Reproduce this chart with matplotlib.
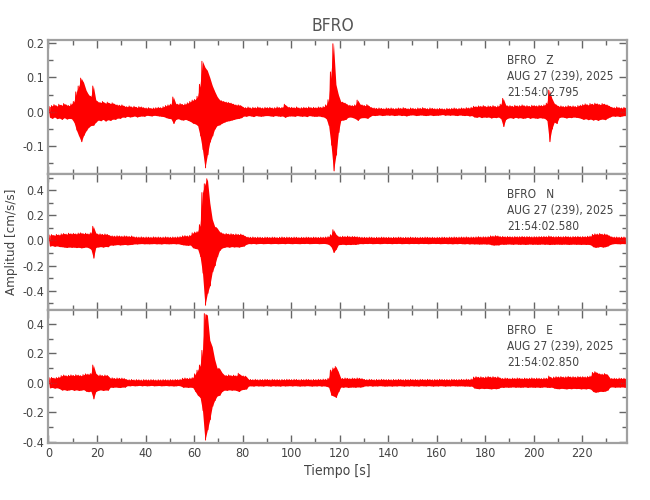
import numpy as np
import matplotlib.pyplot as plt
from matplotlib.ticker import MultipleLocator, FormatStrFormatter

plt.rcParams['axes.unicode_minus'] = False
plt.rcParams['font.family'] = ['DejaVu Sans']
plt.rcParams['font.stretch'] = 'condensed'

station = 'BFRO'
components = ['Z', 'N', 'E']
date_label = 'AUG 27 (239), 2025'
start_times = ['21:54:02.795', '21:54:02.580', '21:54:02.850']
x_ticks = list(range(0, 221, 20))

# max / min of the trace in each 1 s window (t = 0..238 s)
z_hi = [0.015, 0.018, 0.021, 0.017, 0.022, 0.019, 0.024, 0.020, 0.018, 0.023,
        0.030, 0.058, 0.075, 0.098, 0.085, 0.063, 0.050, 0.045, 0.075, 0.035,
        0.029, 0.027, 0.030, 0.025, 0.028, 0.024, 0.026, 0.022, 0.020, 0.019,
        0.020, 0.016, 0.015, 0.017, 0.014, 0.016, 0.013, 0.015, 0.014, 0.012,
        0.011, 0.012, 0.010, 0.011, 0.012, 0.013, 0.012, 0.015, 0.018, 0.020,
        0.022, 0.043, 0.024, 0.022, 0.024, 0.021, 0.023, 0.026, 0.030, 0.034,
        0.036, 0.045, 0.080, 0.147, 0.130, 0.120, 0.100, 0.077, 0.060, 0.045,
        0.035, 0.032, 0.030, 0.028, 0.027, 0.025, 0.022, 0.020, 0.020, 0.018,
        0.013, 0.012, 0.014, 0.011, 0.013, 0.012, 0.014, 0.012, 0.011, 0.013,
        0.012, 0.013, 0.011, 0.012, 0.014, 0.012, 0.013, 0.022, 0.015, 0.013,
        0.013, 0.012, 0.014, 0.011, 0.012, 0.013, 0.012, 0.014, 0.012, 0.013,
        0.012, 0.014, 0.013, 0.015, 0.020, 0.035, 0.116, 0.198, 0.080, 0.050,
        0.030, 0.028, 0.025, 0.020, 0.019, 0.018, 0.020, 0.034, 0.022, 0.020,
        0.018, 0.021, 0.015, 0.012, 0.011, 0.010, 0.011, 0.010, 0.009, 0.011,
        0.010, 0.011, 0.009, 0.010, 0.011, 0.010, 0.012, 0.010, 0.009, 0.011,
        0.010, 0.009, 0.011, 0.010, 0.012, 0.010, 0.009, 0.011, 0.010, 0.009,
        0.009, 0.010, 0.009, 0.008, 0.010, 0.009, 0.010, 0.011, 0.009, 0.010,
        0.011, 0.010, 0.012, 0.011, 0.013, 0.016, 0.015, 0.017, 0.016, 0.018,
        0.015, 0.017, 0.016, 0.018, 0.015, 0.017, 0.022, 0.039, 0.020, 0.017,
        0.018, 0.016, 0.019, 0.017, 0.018, 0.020, 0.017, 0.018, 0.016, 0.019,
        0.018, 0.017, 0.019, 0.018, 0.020, 0.025, 0.063, 0.040, 0.025, 0.020,
        0.016, 0.017, 0.015, 0.016, 0.018, 0.016, 0.017, 0.015, 0.018, 0.019,
        0.021, 0.023, 0.020, 0.024, 0.022, 0.025, 0.023, 0.021, 0.024, 0.022,
        0.020, 0.016, 0.013, 0.012, 0.014, 0.012, 0.011, 0.013, 0.012]
z_lo = [-0.016, -0.019, -0.015, -0.020, -0.018, -0.022, -0.017, -0.021, -0.019, -0.020,
        -0.030, -0.053, -0.070, -0.087, -0.068, -0.055, -0.045, -0.040, -0.039, -0.030,
        -0.024, -0.026, -0.022, -0.027, -0.023, -0.025, -0.021, -0.022, -0.018, -0.019,
        -0.015, -0.016, -0.013, -0.015, -0.014, -0.012, -0.015, -0.013, -0.012, -0.013,
        -0.010, -0.011, -0.012, -0.010, -0.011, -0.012, -0.013, -0.014, -0.017, -0.019,
        -0.020, -0.034, -0.022, -0.020, -0.023, -0.024, -0.022, -0.025, -0.028, -0.033,
        -0.035, -0.040, -0.070, -0.110, -0.163, -0.125, -0.088, -0.070, -0.050, -0.040,
        -0.038, -0.033, -0.030, -0.027, -0.026, -0.024, -0.022, -0.020, -0.019, -0.017,
        -0.012, -0.013, -0.011, -0.012, -0.014, -0.011, -0.012, -0.013, -0.012, -0.011,
        -0.011, -0.012, -0.013, -0.011, -0.012, -0.013, -0.012, -0.016, -0.013, -0.012,
        -0.012, -0.013, -0.011, -0.012, -0.013, -0.012, -0.014, -0.011, -0.012, -0.013,
        -0.013, -0.012, -0.014, -0.015, -0.020, -0.040, -0.097, -0.172, -0.126, -0.060,
        -0.025, -0.024, -0.022, -0.016, -0.015, -0.017, -0.020, -0.025, -0.018, -0.017,
        -0.017, -0.019, -0.014, -0.010, -0.011, -0.010, -0.009, -0.011, -0.010, -0.009,
        -0.010, -0.009, -0.011, -0.010, -0.009, -0.011, -0.010, -0.012, -0.010, -0.009,
        -0.009, -0.011, -0.010, -0.009, -0.010, -0.011, -0.010, -0.009, -0.011, -0.010,
        -0.010, -0.009, -0.008, -0.010, -0.009, -0.010, -0.009, -0.010, -0.011, -0.009,
        -0.010, -0.011, -0.010, -0.012, -0.011, -0.015, -0.016, -0.014, -0.017, -0.015,
        -0.016, -0.015, -0.018, -0.016, -0.017, -0.015, -0.020, -0.043, -0.022, -0.018,
        -0.017, -0.019, -0.016, -0.018, -0.017, -0.019, -0.018, -0.016, -0.019, -0.017,
        -0.018, -0.019, -0.017, -0.018, -0.019, -0.025, -0.087, -0.050, -0.030, -0.034,
        -0.017, -0.015, -0.016, -0.018, -0.016, -0.017, -0.015, -0.016, -0.017, -0.019,
        -0.022, -0.020, -0.023, -0.021, -0.024, -0.022, -0.025, -0.022, -0.021, -0.023,
        -0.018, -0.015, -0.012, -0.013, -0.012, -0.014, -0.012, -0.011, -0.012]

n_hi = [0.042, 0.046, 0.040, 0.048, 0.044, 0.052, 0.055, 0.050, 0.057, 0.053,
        0.056, 0.052, 0.058, 0.060, 0.054, 0.057, 0.052, 0.060, 0.112, 0.060,
        0.050, 0.052, 0.048, 0.051, 0.047, 0.038, 0.036, 0.034, 0.037, 0.035,
        0.033, 0.036, 0.034, 0.032, 0.035, 0.028, 0.027, 0.026, 0.028, 0.025,
        0.027, 0.026, 0.025, 0.028, 0.026, 0.027, 0.025, 0.026, 0.028, 0.026,
        0.025, 0.027, 0.026, 0.028, 0.030, 0.036, 0.038, 0.035, 0.040, 0.060,
        0.066, 0.070, 0.125, 0.380, 0.450, 0.490, 0.300, 0.170, 0.112, 0.100,
        0.070, 0.060, 0.052, 0.055, 0.050, 0.053, 0.048, 0.051, 0.047, 0.050,
        0.042, 0.030, 0.026, 0.025, 0.027, 0.024, 0.026, 0.025, 0.023, 0.026,
        0.025, 0.024, 0.026, 0.025, 0.023, 0.025, 0.027, 0.024, 0.026, 0.025,
        0.024, 0.026, 0.025, 0.023, 0.025, 0.024, 0.026, 0.025, 0.024, 0.026,
        0.025, 0.024, 0.026, 0.025, 0.027, 0.030, 0.045, 0.085, 0.050, 0.032,
        0.030, 0.033, 0.031, 0.034, 0.030, 0.032, 0.031, 0.029, 0.026, 0.025,
        0.025, 0.024, 0.026, 0.025, 0.023, 0.025, 0.024, 0.026, 0.025, 0.024,
        0.025, 0.023, 0.025, 0.024, 0.026, 0.025, 0.023, 0.025, 0.024, 0.026,
        0.024, 0.025, 0.023, 0.025, 0.024, 0.026, 0.025, 0.024, 0.025, 0.023,
        0.025, 0.024, 0.026, 0.025, 0.024, 0.026, 0.025, 0.027, 0.025, 0.026,
        0.027, 0.026, 0.028, 0.025, 0.027, 0.026, 0.028, 0.030, 0.027, 0.029,
        0.028, 0.030, 0.036, 0.034, 0.038, 0.035, 0.030, 0.032, 0.029, 0.031,
        0.030, 0.028, 0.031, 0.029, 0.030, 0.032, 0.029, 0.031, 0.030, 0.028,
        0.030, 0.029, 0.031, 0.030, 0.032, 0.030, 0.035, 0.031, 0.029, 0.030,
        0.031, 0.029, 0.030, 0.032, 0.030, 0.028, 0.031, 0.030, 0.032, 0.029,
        0.031, 0.030, 0.033, 0.034, 0.048, 0.052, 0.050, 0.055, 0.049, 0.051,
        0.046, 0.035, 0.028, 0.026, 0.027, 0.025, 0.026, 0.027, 0.025]
n_lo = [-0.045, -0.041, -0.047, -0.043, -0.049, -0.050, -0.053, -0.056, -0.052, -0.055,
        -0.053, -0.057, -0.054, -0.059, -0.056, -0.052, -0.058, -0.070, -0.141, -0.055,
        -0.052, -0.049, -0.053, -0.048, -0.050, -0.036, -0.038, -0.035, -0.033, -0.036,
        -0.034, -0.032, -0.035, -0.033, -0.031, -0.027, -0.028, -0.026, -0.025, -0.027,
        -0.026, -0.027, -0.026, -0.025, -0.027, -0.026, -0.028, -0.025, -0.026, -0.027,
        -0.026, -0.025, -0.027, -0.026, -0.031, -0.035, -0.037, -0.039, -0.036, -0.058,
        -0.064, -0.068, -0.128, -0.260, -0.515, -0.420, -0.360, -0.250, -0.200, -0.130,
        -0.080, -0.060, -0.055, -0.050, -0.054, -0.049, -0.052, -0.050, -0.053, -0.048,
        -0.045, -0.031, -0.025, -0.026, -0.024, -0.027, -0.025, -0.024, -0.026, -0.025,
        -0.024, -0.026, -0.025, -0.024, -0.026, -0.025, -0.024, -0.026, -0.023, -0.025,
        -0.026, -0.024, -0.025, -0.026, -0.024, -0.025, -0.023, -0.026, -0.025, -0.024,
        -0.024, -0.026, -0.025, -0.024, -0.026, -0.032, -0.050, -0.096, -0.070, -0.034,
        -0.032, -0.030, -0.034, -0.031, -0.033, -0.030, -0.032, -0.028, -0.025, -0.026,
        -0.024, -0.025, -0.023, -0.026, -0.025, -0.024, -0.026, -0.025, -0.023, -0.025,
        -0.024, -0.026, -0.024, -0.025, -0.023, -0.026, -0.025, -0.024, -0.026, -0.024,
        -0.025, -0.024, -0.026, -0.023, -0.025, -0.024, -0.026, -0.025, -0.023, -0.025,
        -0.024, -0.026, -0.025, -0.024, -0.026, -0.025, -0.027, -0.025, -0.026, -0.024,
        -0.026, -0.027, -0.025, -0.028, -0.026, -0.028, -0.027, -0.029, -0.028, -0.027,
        -0.029, -0.028, -0.034, -0.037, -0.035, -0.036, -0.029, -0.031, -0.030, -0.028,
        -0.029, -0.031, -0.028, -0.030, -0.031, -0.029, -0.032, -0.030, -0.028, -0.031,
        -0.029, -0.031, -0.030, -0.028, -0.031, -0.029, -0.033, -0.030, -0.031, -0.029,
        -0.030, -0.031, -0.029, -0.030, -0.032, -0.030, -0.029, -0.031, -0.030, -0.032,
        -0.030, -0.032, -0.031, -0.035, -0.050, -0.055, -0.052, -0.048, -0.053, -0.050,
        -0.044, -0.033, -0.027, -0.025, -0.026, -0.027, -0.025, -0.026, -0.024]

e_hi = [0.033, 0.036, 0.031, 0.035, 0.038, 0.048, 0.052, 0.047, 0.050, 0.053,
        0.049, 0.054, 0.051, 0.048, 0.055, 0.060, 0.058, 0.062, 0.120, 0.065,
        0.050, 0.053, 0.048, 0.052, 0.049, 0.031, 0.033, 0.029, 0.032, 0.030,
        0.031, 0.028, 0.021, 0.020, 0.022, 0.019, 0.021, 0.020, 0.018, 0.021,
        0.020, 0.019, 0.021, 0.020, 0.018, 0.020, 0.019, 0.021, 0.020, 0.019,
        0.021, 0.020, 0.022, 0.021, 0.023, 0.030, 0.032, 0.029, 0.031, 0.034,
        0.060, 0.085, 0.120, 0.220, 0.470, 0.460, 0.290, 0.245, 0.160, 0.100,
        0.098, 0.070, 0.052, 0.049, 0.053, 0.048, 0.051, 0.047, 0.064, 0.050,
        0.046, 0.044, 0.023, 0.022, 0.021, 0.023, 0.020, 0.022, 0.021, 0.023,
        0.022, 0.020, 0.023, 0.021, 0.022, 0.020, 0.022, 0.021, 0.023, 0.022,
        0.021, 0.023, 0.022, 0.020, 0.022, 0.021, 0.023, 0.022, 0.020, 0.022,
        0.021, 0.023, 0.022, 0.024, 0.023, 0.030, 0.086, 0.100, 0.110, 0.075,
        0.031, 0.029, 0.032, 0.030, 0.028, 0.031, 0.029, 0.032, 0.030, 0.028,
        0.022, 0.021, 0.023, 0.022, 0.020, 0.022, 0.021, 0.023, 0.022, 0.021,
        0.022, 0.020, 0.022, 0.021, 0.023, 0.022, 0.020, 0.022, 0.021, 0.023,
        0.021, 0.022, 0.020, 0.023, 0.022, 0.021, 0.023, 0.022, 0.020, 0.022,
        0.021, 0.023, 0.022, 0.021, 0.022, 0.020, 0.023, 0.022, 0.021, 0.022,
        0.023, 0.022, 0.024, 0.022, 0.025, 0.038, 0.041, 0.037, 0.040, 0.036,
        0.039, 0.042, 0.038, 0.041, 0.037, 0.040, 0.031, 0.029, 0.032, 0.030,
        0.028, 0.031, 0.029, 0.032, 0.030, 0.028, 0.031, 0.029, 0.030, 0.032,
        0.029, 0.031, 0.030, 0.028, 0.031, 0.030, 0.045, 0.033, 0.038, 0.041,
        0.039, 0.042, 0.038, 0.040, 0.043, 0.039, 0.041, 0.038, 0.042, 0.040,
        0.041, 0.039, 0.042, 0.045, 0.070, 0.075, 0.065, 0.060, 0.058, 0.062,
        0.055, 0.031, 0.029, 0.030, 0.028, 0.031, 0.029, 0.030, 0.028]
e_lo = [-0.035, -0.032, -0.037, -0.034, -0.040, -0.050, -0.047, -0.052, -0.049, -0.046,
        -0.052, -0.048, -0.053, -0.050, -0.047, -0.058, -0.061, -0.057, -0.110, -0.060,
        -0.052, -0.048, -0.053, -0.049, -0.051, -0.030, -0.032, -0.029, -0.031, -0.033,
        -0.029, -0.030, -0.020, -0.021, -0.019, -0.021, -0.020, -0.018, -0.021, -0.019,
        -0.021, -0.020, -0.018, -0.021, -0.020, -0.019, -0.021, -0.020, -0.019, -0.021,
        -0.020, -0.022, -0.021, -0.019, -0.022, -0.031, -0.029, -0.032, -0.030, -0.033,
        -0.060, -0.085, -0.100, -0.190, -0.390, -0.320, -0.250, -0.160, -0.120, -0.090,
        -0.085, -0.060, -0.050, -0.052, -0.048, -0.051, -0.049, -0.053, -0.060, -0.048,
        -0.045, -0.043, -0.022, -0.021, -0.023, -0.020, -0.022, -0.021, -0.023, -0.020,
        -0.021, -0.023, -0.020, -0.022, -0.021, -0.023, -0.020, -0.022, -0.021, -0.020,
        -0.022, -0.020, -0.021, -0.023, -0.021, -0.022, -0.020, -0.021, -0.023, -0.021,
        -0.022, -0.020, -0.023, -0.021, -0.024, -0.030, -0.084, -0.090, -0.100, -0.061,
        -0.029, -0.031, -0.028, -0.032, -0.030, -0.029, -0.031, -0.028, -0.030, -0.027,
        -0.021, -0.022, -0.020, -0.023, -0.021, -0.022, -0.020, -0.021, -0.023, -0.022,
        -0.021, -0.023, -0.021, -0.022, -0.020, -0.021, -0.023, -0.021, -0.022, -0.020,
        -0.022, -0.021, -0.023, -0.020, -0.021, -0.022, -0.020, -0.021, -0.023, -0.021,
        -0.022, -0.020, -0.021, -0.023, -0.021, -0.022, -0.020, -0.021, -0.022, -0.021,
        -0.021, -0.023, -0.022, -0.024, -0.023, -0.036, -0.039, -0.041, -0.037, -0.040,
        -0.038, -0.040, -0.042, -0.039, -0.041, -0.038, -0.030, -0.032, -0.029, -0.031,
        -0.030, -0.028, -0.031, -0.029, -0.031, -0.030, -0.028, -0.032, -0.029, -0.030,
        -0.031, -0.029, -0.032, -0.030, -0.028, -0.031, -0.032, -0.030, -0.037, -0.040,
        -0.041, -0.038, -0.040, -0.042, -0.039, -0.041, -0.038, -0.040, -0.039, -0.042,
        -0.040, -0.042, -0.039, -0.043, -0.060, -0.065, -0.062, -0.058, -0.060, -0.057,
        -0.050, -0.030, -0.028, -0.031, -0.029, -0.030, -0.028, -0.031, -0.029]

traces = [(z_hi, z_lo), (n_hi, n_lo), (e_hi, e_lo)]
ylims = [(-0.181, 0.209), (-0.549, 0.528), (-0.41, 0.498)]
ysteps = [(0.1, 0.05), (0.2, 0.1), (0.2, 0.1)]
boxes = [[0.0746, 0.652, 0.89, 0.268],
         [0.0746, 0.381, 0.89, 0.271],
         [0.0746, 0.114, 0.89, 0.267]]

frame_col = '#a0a0a0'
text_col = '#444444'

fig = plt.figure(figsize=(6.5, 5), dpi=100)
for i in range(3):
    ax = fig.add_axes(boxes[i])
    hi, lo = traces[i]
    sec = np.arange(len(hi))
    # solid band between the max and min of each second, plus a zig-zag for the ragged edge
    ax.fill_between(sec + 0.5, lo, hi, color='red', lw=0)
    t = np.column_stack([sec + 0.25, sec + 0.75]).ravel()
    y = np.column_stack([hi, lo]).ravel()
    ax.plot(t, y, color='red', lw=0.7)

    ax.set_xlim(0, 238.5)
    ax.set_ylim(*ylims[i])
    ax.xaxis.set_major_locator(MultipleLocator(20))
    ax.xaxis.set_minor_locator(MultipleLocator(10))
    ax.yaxis.set_major_locator(MultipleLocator(ysteps[i][0]))
    ax.yaxis.set_minor_locator(MultipleLocator(ysteps[i][1]))
    ax.yaxis.set_major_formatter(FormatStrFormatter('%.1f'))
    ax.tick_params(which='both', direction='in', top=True, right=True,
                   color='#666666', width=1, labelsize=9, labelcolor=text_col, pad=3)
    ax.tick_params(which='major', length=6)
    ax.tick_params(which='minor', length=3.5)
    for sp in ax.spines.values():
        sp.set_color(frame_col)
        sp.set_linewidth(1.6)
    if i < 2:
        ax.tick_params(labelbottom=False)
    else:
        ax.set_xticks(x_ticks)
        ax.set_xlabel('Tiempo [s]', fontsize=10, color=text_col, labelpad=3)

    ax.text(0.793, 0.895, station + '   ' + components[i] + '\n' + date_label + '\n' + start_times[i],
            transform=ax.transAxes, ha='left', va='top', fontsize=8.6,
            color=text_col, linespacing=1.3)

fig.text(0.512, 0.948, station, ha='center', va='center', fontsize=12.5, color='#555555')
fig.text(0.018, 0.516, 'Amplitud [cm/s/s]', rotation=90, ha='center', va='center',
         fontsize=9.5, color=text_col)

fig.savefig('out.png', dpi=100)
